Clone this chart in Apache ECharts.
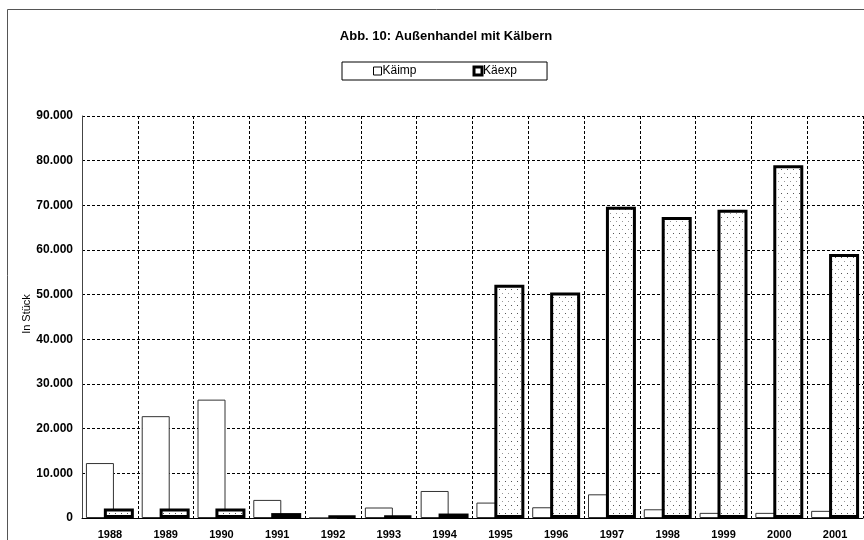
<!DOCTYPE html>
<html>
<head>
<meta charset="utf-8">
<title>Außenhandel mit Kälbern</title>
<script src="https://cdn.jsdelivr.net/npm/echarts@6/dist/echarts.min.js"></script>
<style>
  html, body { margin: 0; padding: 0; background: #fff; }
  #chart { width: 864px; height: 540px; }
</style>
</head>
<body>
<div id="chart"></div>
<script>
// Jahre (Kategorien)
const years = ['1988', '1989', '1990', '1991', '1992', '1993', '1994',
               '1995', '1996', '1997', '1998', '1999', '2000', '2001'];

// Kälberimporte, Stück
const kaeimp = [12300, 22800, 26500, 4050, 0, 2350, 6050,
                3450, 2400, 5300, 1950, 1150, 1150, 1600];

// Kälberexporte, Stück
const kaeexp = [2100, 2100, 2100, 1100, 600, 600, 1000,
                52200, 50500, 69700, 67400, 69000, 79000, 59100];

// Achsenbeschriftung der Werteachse
const yMax = 90000;
const yStep = 10000;

// Punktraster für die Exportbalken
function dotPattern() {
  const c = document.createElement('canvas');
  c.width = 6; c.height = 8;
  const g = c.getContext('2d');
  g.fillStyle = '#ffffff';
  g.fillRect(0, 0, 6, 8);
  g.fillStyle = '#555555';
  g.fillRect(1, 1, 1, 1);
  g.fillStyle = '#9a9a9a';
  g.fillRect(4, 5, 1, 1);
  return c;
}

function fmtThousands(v) {
  return String(v).replace(/\B(?=(\d{3})+(?!\d))/g, '.');
}

const chart = echarts.init(document.getElementById('chart'), null, { renderer: 'canvas' });

chart.setOption({
  backgroundColor: '#ffffff',
  animation: false,
  title: {
    text: 'Abb. 10: Außenhandel mit Kälbern',
    left: 441,
    top: 25,
    textAlign: 'center',
    textStyle: {
      fontFamily: 'Liberation Sans, Arial, sans-serif',
      fontSize: 13,
      fontWeight: 'bold',
      color: '#000'
    }
  },
  legend: {
    left: 342,
    top: 62,
    orient: 'horizontal',
    padding: [3, 30, 3, 31],
    borderColor: '#000',
    borderWidth: 1,
    itemWidth: 8,
    itemHeight: 8,
    itemGap: 56,
    textStyle: {
      fontFamily: 'Liberation Sans, Arial, sans-serif',
      fontSize: 12,
      color: '#000',
      padding: [0, 0, 0, -4]
    },
    data: [
      { name: 'Käimp', icon: 'rect', itemStyle: { color: '#fff', borderColor: '#000', borderWidth: 1 } },
      { name: 'Käexp', icon: 'rect', itemStyle: { color: '#fff', borderColor: '#000', borderWidth: 3 } }
    ]
  },
  grid: {
    left: 82,
    top: 116,
    right: 1,
    bottom: 22,
    containLabel: false
  },
  xAxis: {
    type: 'category',
    data: years,
    boundaryGap: true,
    axisLine: { show: true, lineStyle: { color: '#000', width: 1 } },
    axisTick: { show: false },
    axisLabel: {
      margin: 11,
      fontFamily: 'Liberation Sans, Arial, sans-serif',
      fontSize: 11,
      fontWeight: 'bold',
      color: '#000',
      interval: 0
    },
    splitLine: {
      show: true,
      interval: 0,
      lineStyle: { color: '#000', width: 1, type: [3, 2] }
    }
  },
  yAxis: {
    type: 'value',
    min: 0,
    max: yMax,
    interval: yStep,
    axisLine: { show: true, lineStyle: { color: '#444', width: 1 } },
    axisTick: { show: false },
    axisLabel: {
      margin: 9,
      fontFamily: 'Liberation Sans, Arial, sans-serif',
      fontSize: 12,
      fontWeight: 'bold',
      color: '#000',
      formatter: fmtThousands
    },
    splitLine: {
      show: true,
      lineStyle: { color: '#000', width: 1, type: [3, 2] }
    }
  },
  graphic: [
    {
      type: 'rect',
      silent: true,
      shape: { x: 7.5, y: 9.5, width: 1000, height: 1000 },
      style: { fill: 'none', stroke: '#555', lineWidth: 1 },
      z: -1
    },
    {
      type: 'text',
      x: 27,
      y: 314,
      rotation: Math.PI / 2,
      style: {
        text: 'In Stück',
        fontFamily: 'Liberation Sans, Arial, sans-serif',
        fontSize: 11,
        fill: '#000',
        align: 'center',
        verticalAlign: 'middle'
      }
    }
  ],
  series: [
    {
      name: 'Käimp',
      type: 'bar',
      data: kaeimp,
      barWidth: 28,
      barGap: '-36%',
      itemStyle: { color: '#ffffff', borderColor: '#333', borderWidth: 1 },
      z: 2
    },
    {
      name: 'Käexp',
      type: 'bar',
      data: kaeexp,
      barWidth: 30,
      barGap: '-36%',
      itemStyle: {
        color: { image: dotPattern(), repeat: 'repeat' },
        borderColor: '#000',
        borderWidth: 3
      },
      z: 3
    }
  ]
});
</script>
</body>
</html>
